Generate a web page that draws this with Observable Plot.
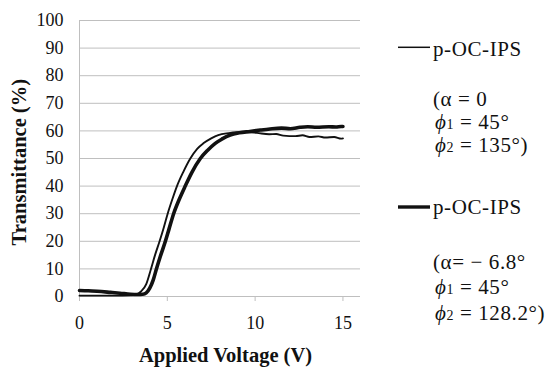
<!DOCTYPE html>
<html>
<head>
<meta charset="utf-8">
<script src="https://cdn.jsdelivr.net/npm/d3@7"></script>
<script src="https://cdn.jsdelivr.net/npm/@observablehq/plot@0.6"></script>
<style>
  html, body { margin: 0; padding: 0; background: #fff; }
  #wrap { position: relative; width: 550px; height: 372px; }
  #legend { position: absolute; left: 0; top: 0; }
</style>
</head>
<body>
<div id="wrap"></div>
<script>
// Series 1: alpha = 0 (thin line)
const thinV = [0, 1, 2, 2.9, 3.2, 3.5, 3.8, 4.07, 4.3, 4.56, 4.8, 5.02, 5.3, 5.55, 5.9, 6.31, 6.7, 7.05, 7.5, 7.9, 8.5, 8.96, 9.5, 10.1, 10.8, 11.2, 11.6, 12.3, 12.7, 13.1, 13.6, 14, 14.5, 14.9, 15];
const thinT = [0.3, 0.3, 0.3, 0.4, 0.7, 1.8, 4.5, 10, 15, 20, 25, 30, 35.5, 40, 45, 50, 53.5, 55.5, 57.3, 58.5, 59.2, 59.5, 59.6, 59.3, 58.8, 58.9, 58.3, 58.1, 58.4, 57.8, 58.0, 57.6, 57.8, 57.2, 57.3];
// Series 2: alpha = -6.8 deg (thick line)
const thickV = [0, 0.5, 1, 1.76, 2.3, 2.9, 3.3, 3.6, 3.8, 4.0, 4.2, 4.38, 4.6, 4.89, 5.1, 5.36, 5.7, 6.02, 6.4, 6.88, 7.3, 7.73, 8.1, 8.58, 9.1, 9.7, 10.3, 10.85, 11.5, 12.0, 12.56, 13.0, 13.5, 14.2, 14.6, 14.9, 15];
const thickT = [2.2, 2.1, 1.9, 1.5, 1.2, 0.8, 0.7, 0.8, 1.3, 3, 6, 10, 14.5, 20, 24.5, 30, 35.5, 40, 45, 50, 53, 55.5, 57, 58.5, 59.3, 59.8, 60.3, 60.7, 61.0, 60.8, 61.3, 61.5, 61.3, 61.5, 61.4, 61.6, 61.6];

const xTicks = [0, 5, 10, 15];
const yTicks = [0, 10, 20, 30, 40, 50, 60, 70, 80, 90, 100];
const xTitle = "Applied Voltage (V)";
const yTitle = "Transmittance (%)";
const legendName = "p-OC-IPS";

const thinData = thinV.map((v, i) => ({v, t: thinT[i]}));
const thickData = thickV.map((v, i) => ({v, t: thickT[i]}));

const grid = "#bfbfbf";
const serif = "'Liberation Serif', 'Times New Roman', serif";

const chart = Plot.plot({
  width: 550,
  height: 372,
  marginLeft: 79,
  marginRight: 190,
  marginTop: 20,
  marginBottom: 76,
  style: {fontFamily: serif, fontSize: "18px", color: "#111", background: "#fff"},
  x: {domain: [0, 16]},
  y: {domain: [0, 100]},
  marks: [
    Plot.ruleY(yTicks, {stroke: grid, strokeWidth: 1}),
    Plot.ruleX([0], {stroke: grid, strokeWidth: 1}),
    Plot.axisX({ticks: xTicks, tickSize: 5, tickPadding: 15, stroke: grid, label: null, fontSize: 18}),
    Plot.axisY({ticks: yTicks, tickSize: 0, tickPadding: 16, label: null, fontSize: 18}),
    Plot.line(thinData, {x: "v", y: "t", stroke: "#111", strokeWidth: 1.9, curve: "monotone-x"}),
    Plot.line(thickData, {x: "v", y: "t", stroke: "#111", strokeWidth: 3.6, curve: "monotone-x"}),
    Plot.text([xTitle], {text: d => d, frameAnchor: "bottom", lineAnchor: "bottom", textAnchor: "middle", dy: 65.5, dx: 5.5, fontWeight: "bold", fontSize: 20.5, fill: "#111"}),
    Plot.text([yTitle], {text: d => d, frameAnchor: "left", lineAnchor: "middle", textAnchor: "middle", rotate: -90, dx: -59.7, dy: 3.7, fontWeight: "bold", fontSize: 20.5, fill: "#111"})
  ]
});
document.getElementById("wrap").appendChild(chart);

// Legend overlay
const svg = d3.select("#wrap").append("svg")
  .attr("id", "legend").attr("width", 550).attr("height", 372)
  .style("font-family", serif).style("font-size", "21px").style("letter-spacing", "0.6px").attr("fill", "#111");

function entry(lineY, sw, nameBase, baseY, lines) {
  svg.append("line").attr("x1", 398).attr("x2", 430).attr("y1", lineY).attr("y2", lineY)
    .attr("stroke", "#111").attr("stroke-width", sw);
  svg.append("text").attr("x", 433).attr("y", nameBase).text(legendName);
  lines.forEach((ln, i) => {
    const t = svg.append("text").attr("x", ln.x).attr("y", baseY[i]);
    ln.parts.forEach(p => {
      const s = t.append("tspan").text(p.t);
      if (p.i) s.attr("font-style", "italic");
      if (p.sub) s.attr("font-size", "14px");
    });
  });
}
entry(47.3, 1.5, 55.7, [106, 129, 152], [
  {x: 433, parts: [{t: "(α = 0"}]},
  {x: 435, parts: [{t: "ϕ", i: true}, {t: "1", sub: true}, {t: " = 45°"}]},
  {x: 435, parts: [{t: "ϕ", i: true}, {t: "2", sub: true}, {t: " = 135°)"}]}
]);
entry(207, 3.4, 214, [269, 294, 320], [
  {x: 433, parts: [{t: "(α= − 6.8°"}]},
  {x: 435, parts: [{t: "ϕ", i: true}, {t: "1", sub: true}, {t: " = 45°"}]},
  {x: 435, parts: [{t: "ϕ", i: true}, {t: "2", sub: true}, {t: " = 128.2°)"}]}
]);
</script>
</body>
</html>
